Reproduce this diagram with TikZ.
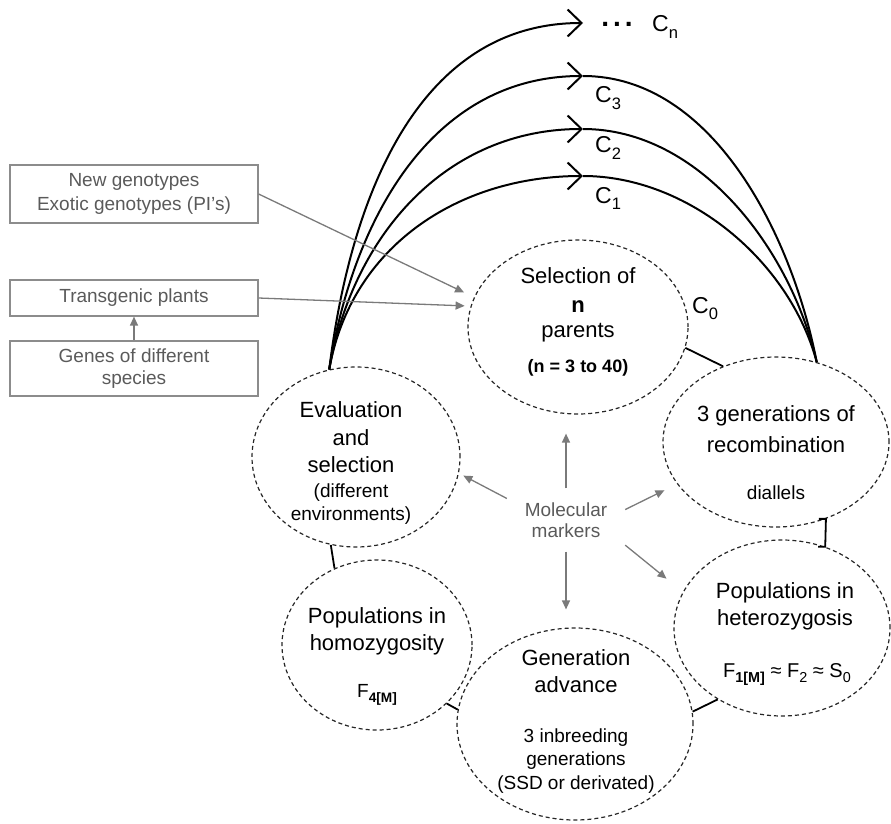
\documentclass[tikz,border=0pt]{standalone}
\usepackage{fontspec}
\setmainfont{Liberation Sans}
\usetikzlibrary{arrows.meta,shapes.geometric}
\definecolor{gtxt}{HTML}{5A5A5A}
\definecolor{gline}{HTML}{8C8C8C}
\definecolor{garr}{HTML}{7A7A7A}
\newcommand{\dn}[1]{\raisebox{-0.28em}{\scalebox{0.72}{#1}}}
\begin{document}
\begin{tikzpicture}[x=1pt,y=1pt,
  phase/.style={ellipse, draw=black!85, dash pattern=on 4pt off 3pt, line width=1.2pt, inner sep=0pt},
  big/.style={font=\fontsize{22}{26}\selectfont, inner sep=0pt, anchor=base},
  small/.style={font=\fontsize{19}{22}\selectfont, inner sep=0pt, anchor=base},
  srcbox/.style={draw=gline, line width=1.2pt, minimum width=248pt, inner sep=0pt,
    align=center, text=gtxt, font=\fontsize{19}{24}\selectfont},
  garrow/.style={draw=garr, line width=1.3pt, -{Triangle[length=9pt,width=8pt]}},
  link/.style={line width=1.8pt},
  cyc/.style={line width=2pt},
  barb/.style={-{Straight Barb[length=14pt,width=27pt]}},
  clab/.style={font=\fontsize{23}{23}\selectfont, inner sep=0pt, anchor=base west}]
\useasboundingbox (0,0) rectangle (891,-824);

% breeding cycle phases
\node[phase, minimum width=220pt, minimum height=174pt] (sel)  at (578,-327) {};
\node[phase, minimum width=208pt, minimum height=180pt] (eval) at (356,-457) {};
\node[phase, minimum width=226pt, minimum height=170pt] (rec)  at (776,-442) {};
\node[phase, minimum width=190pt, minimum height=170pt] (hom)  at (377,-645) {};
\node[phase, minimum width=236pt, minimum height=192pt] (gen)  at (575,-724) {};
\node[phase, minimum width=216pt, minimum height=176pt] (het)  at (782,-628) {};

% texts of the phases
\node[big] (sel1) at (578,-283) {Selection of};
\node[big, font=\fontsize{22}{26}\selectfont\bfseries] (sel2) at (578,-312) {n};
\node[big] (sel3) at (578,-337) {parents};
\node[small, font=\fontsize{18}{22}\selectfont\bfseries] (sel4) at (578,-372) {(n = 3 to 40)};

\node[big] (ev1) at (351,-417) {Evaluation};
\node[big] (ev2) at (351,-445) {and};
\node[big] (ev3) at (351,-472) {selection};
\node[small] (ev4) at (351,-497) {(different};
\node[small] (ev5) at (351,-520) {environments)};

\node[big] (re1) at (776,-421) {3 generations of};
\node[big] (re2) at (776,-452) {recombination};
\node[small] (re3) at (776,-499) {diallels};

\node[big] (he1) at (785,-598) {Populations in};
\node[big] (he2) at (785,-625) {heterozygosis};
\node[small, font=\fontsize{20}{22}\selectfont] (he3) at (787,-677)
  {F\dn{\textbf{1[M]}} ≈ F\dn{2} ≈ S\dn{0}};

\node[big] (ho1) at (377,-623) {Populations in};
\node[big] (ho2) at (377,-650) {homozygosity};
\node[small] (ho3) at (377,-697) {F\dn{\textbf{4[M]}}};

\node[big] (ge1) at (576,-665) {Generation};
\node[big] (ge2) at (576,-692) {advance};
\node[small] (ge3) at (576,-742) {3 inbreeding};
\node[small] (ge4) at (576,-765) {generations};
\node[small] (ge5) at (576,-789) {(SSD or derivated)};

% links between neighbouring phases
\draw[link] (sel.-11) -- (rec.125);
\draw[link] ([xshift=-7pt]rec.-57) -- (rec.-57) -- (het.62) -- ([xshift=-7pt]het.62);
\draw[link] (het.228) -- (gen.6);
\draw[link] (gen.173) -- (hom.-40);
\draw[link] (eval.-106) -- (hom.119);

% selection cycles
\coordinate (p1) at (583,-176);
\coordinate (p2) at (583,-129);
\coordinate (p3) at (583,-76);
\coordinate (pn) at (583,-23);
\draw[cyc, barb] (eval.107) to[out=80,in=180] (p1);
\draw[cyc] (p1) to[out=0,in=105,looseness=0.9] (rec.63);
\draw[cyc, barb] (eval.107) to[out=80,in=180] (p2);
\draw[cyc] (p2) to[out=0,in=103,looseness=0.9] (rec.63);
\draw[cyc, barb] (eval.107) to[out=81,in=180] (p3);
\draw[cyc] (p3) to[out=0,in=101,looseness=0.9] (rec.63);
\draw[cyc, barb] (eval.107) to[out=83,in=180] (pn);

\node[clab] (c0) at (692,-313) {C\dn{0}};
\node[clab] (c1) at (595,-203) {C\dn{1}};
\node[clab] (c2) at (595,-153) {C\dn{2}};
\node[clab] (c3) at (595,-103) {C\dn{3}};
\node[font=\fontsize{28}{28}\selectfont\bfseries, inner sep=0pt, anchor=base] (dots) at (617,-27)
  {.\hspace{4pt}.\hspace{4pt}.};
\node[clab] (cn) at (652,-32) {C\dn{n}};

% sources of parents
\node[srcbox, minimum height=58pt] (box1) at (134,-194) {New genotypes\\Exotic genotypes (PI's)};
\node[srcbox, minimum height=36pt] (box2) at (134,-298) {Transgenic plants};
\node[srcbox, minimum height=55pt, font=\fontsize{19}{22}\selectfont] (box3) at (134,-368.5)
  {Genes of different\\species};
\draw[garrow] (box3.north) -- (box2.south);
\draw[garrow, shorten >=11pt] (box1.east) -- (sel.164);
\draw[garrow, shorten >=6pt] (box2.east) -- (sel.169);

% molecular markers
\node[rectangle, minimum width=118pt, minimum height=63pt, inner sep=0pt, align=center,
  text=gtxt, font=\fontsize{19}{21}\selectfont] (mm) at (566,-520) {Molecular\\markers};
\draw[garrow, shorten >=19pt] (mm.north) -- (mm.north |- sel.south);
\draw[garrow, shorten >=18pt] (mm.south) -- (mm.south |- gen.north);
\draw[garrow, shorten >=5pt] (mm.160) -- (eval.-9);
\draw[garrow, shorten >=14pt] (mm.10) -- (rec.203);
\draw[garrow, shorten >=21pt] (mm.-23) -- (het.160);
\end{tikzpicture}
\end{document}
